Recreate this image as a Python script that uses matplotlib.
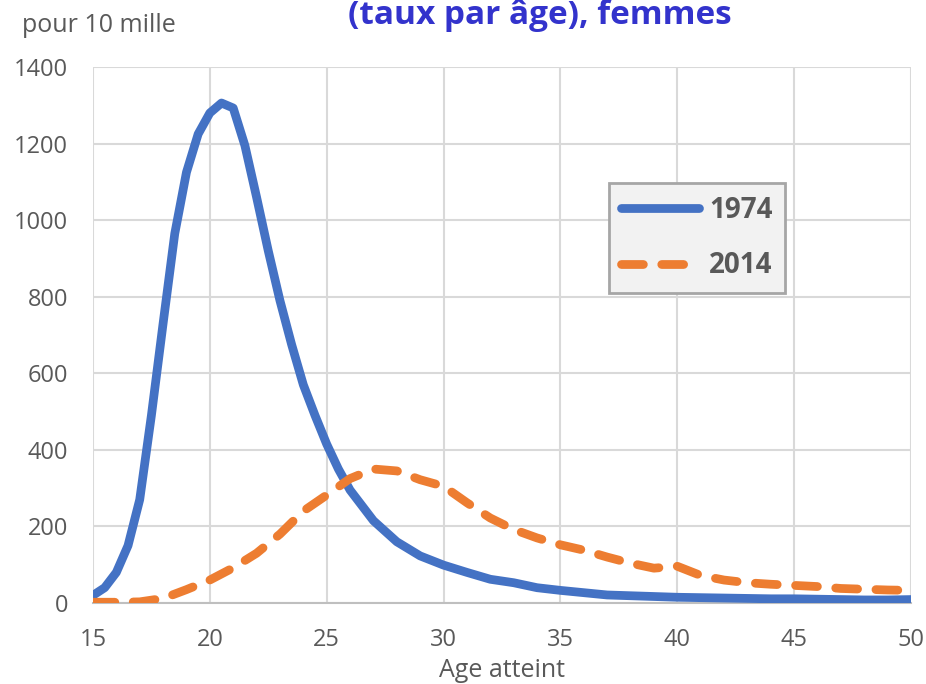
import numpy as np
from matplotlib import pyplot as plt

# Taux de fécondité par âge (pour 10 mille), femmes, 1974 et 2014

ages_1974 = [15, 15.5, 16, 16.5, 17, 17.5, 18, 18.5, 19, 19.5, 20, 20.5, 21, 21.5,
             22, 22.5, 23, 23.5, 24, 24.5, 25, 25.5, 26, 27, 28, 29, 30, 31, 32,
             33, 34, 35, 36, 37, 38, 39, 40, 41, 42, 43, 44, 45, 46, 47, 48, 49, 50]
taux_1974 = [20, 40, 80, 150, 270, 490, 730, 965, 1125, 1225, 1280, 1306, 1293, 1195,
             1060, 920, 790, 675, 570, 490, 415, 350, 295, 215, 160, 123, 99, 80, 62,
             53, 40, 33, 27, 21, 19, 17, 15, 14, 13, 12, 11, 11, 10, 9, 8, 8, 9]

ages_2014 = list(range(15, 51))
taux_2014 = [2, 2, 3, 12, 35, 60, 92, 130, 180, 240, 282, 325, 350, 345, 322,
             305, 262, 222, 192, 170, 152, 138, 120, 104, 91, 96, 72, 60, 53, 49,
             46, 43, 38, 36, 34, 33]

xticks = [15, 20, 25, 30, 35, 40, 45, 50]
yticks = [0, 200, 400, 600, 800, 1000, 1200, 1400]

bleu = '#4472C4'
orange = '#ED7D31'
gris = '#595959'

plt.rcParams['font.family'] = ['Open Sans', 'DejaVu Sans']

fig = plt.figure(figsize=(9.26, 6.84), dpi=100)
ax = fig.add_axes([0.1004, 0.1184, 0.8834, 0.7836])

ax.plot(ages_1974, taux_1974, color=bleu, lw=6.3, solid_capstyle='round',
        solid_joinstyle='round', label='1974', zorder=3)
ligne, = ax.plot(ages_2014, taux_2014, color=orange, lw=6.3, ls='--',
                 dash_capstyle='round', label='2014', zorder=3)
ligne.set_dashes((2.5, 2.1))

ax.set_xlim(15, 50)
ax.set_ylim(0, 1400)
ax.set_xticks(xticks)
ax.set_yticks(yticks)
ax.grid(True, color='#d9d9d9', lw=1.5)
ax.set_axisbelow(True)
for s in ['top', 'right', 'left']:
    ax.spines[s].set_visible(False)
ax.spines['bottom'].set_color('#bfbfbf')
ax.spines['bottom'].set_linewidth(1.5)
ax.tick_params(length=0, labelsize=17, labelcolor=gris)
ax.tick_params(axis='x', pad=18)
ax.tick_params(axis='y', pad=18)

ax.set_xlabel('Age atteint', fontsize=18, color=gris, labelpad=4)

leg = ax.legend(loc='upper left', bbox_to_anchor=(0.6308, 0.7836), borderaxespad=0,
                prop={'weight': 'bold', 'size': 20}, handlelength=2.8,
                handletextpad=0.35, labelspacing=0.97, borderpad=0.45,
                fancybox=False, frameon=True)
leg.get_frame().set_facecolor('#f2f2f2')
leg.get_frame().set_edgecolor('#a6a6a6')
leg.get_frame().set_linewidth(2)
leg.get_frame().set_alpha(1)
for t in leg.get_texts():
    t.set_color(gris)

fig.text(0.583, 1 - 16 / 684, '(taux par âge), femmes', ha='center', va='center',
         fontsize=24, fontweight='bold', color='#3333CC')
fig.text(0.024, 1 - 25 / 684, 'pour 10 mille', ha='left', va='center',
         fontsize=18, color=gris)

fig.savefig('out.png', dpi=100)
